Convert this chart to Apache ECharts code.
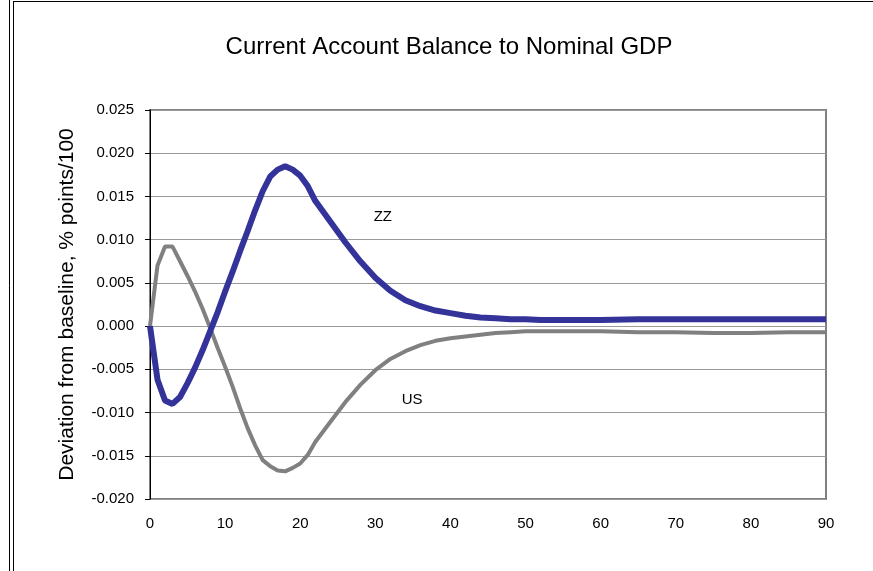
<!DOCTYPE html>
<html>
<head>
<meta charset="utf-8">
<script src="https://cdn.jsdelivr.net/npm/echarts@6/dist/echarts.min.js"></script>
<style>
  html, body { margin: 0; padding: 0; background: #fff; }
  #chart { width: 873px; height: 571px; }
</style>
</head>
<body>
<div id="chart"></div>
<script>
const periods = [0, 1, 2, 3, 4, 5, 6, 7, 8, 9, 10, 11, 12, 13, 14, 15, 16, 17, 18, 19, 20, 21, 22,
  24, 26, 28, 30, 32, 34, 36, 38, 40, 42, 44, 46, 48, 50, 52, 55, 60, 65, 70, 75, 80, 85, 90];

const zzValues = [0, -0.0062, -0.0086, -0.0090, -0.0082, -0.0066, -0.0048, -0.0028, -0.0006, 0.0016,
  0.0040, 0.0063, 0.0087, 0.0110, 0.0134, 0.0156, 0.0173, 0.0181, 0.0185, 0.0181, 0.0174, 0.0162, 0.0145,
  0.0121, 0.0097, 0.0075, 0.0056, 0.0041, 0.0030, 0.0023, 0.0018, 0.0015, 0.0012, 0.0010, 0.0009, 0.0008,
  0.0008, 0.0007, 0.0007, 0.0007, 0.0008, 0.0008, 0.0008, 0.0008, 0.0008, 0.0008];

const usValues = [0, 0.0070, 0.0092, 0.0092, 0.0075, 0.0058, 0.0040, 0.0020, -0.0002, -0.0025,
  -0.0047, -0.0070, -0.0095, -0.0118, -0.0138, -0.0155, -0.0162, -0.0167, -0.0168, -0.0164, -0.0159, -0.0149, -0.0134,
  -0.0111, -0.0088, -0.0068, -0.0051, -0.0038, -0.0029, -0.0022, -0.0017, -0.0014, -0.0012, -0.0010, -0.0008, -0.0007,
  -0.0006, -0.0006, -0.0006, -0.0006, -0.0007, -0.0007, -0.0008, -0.0008, -0.0007, -0.0007];

// where the series names sit in the plot
const zzLabelAt = [31, 0.0126];
const usLabelAt = [34.9, -0.0085];

const chart = echarts.init(document.getElementById("chart"));
const font = "Arial, 'Liberation Sans', sans-serif";

const pairs = (vals) => periods.map((t, i) => [t, vals[i]]);

chart.setOption({
  animation: false,
  title: {
    text: "Current Account Balance to Nominal GDP",
    left: 444,
    top: 30,
    textAlign: "center",
    textStyle: { fontFamily: font, fontSize: 24, fontWeight: "normal", color: "#000" },
  },
  grid: {
    left: 150,
    right: 47,
    top: 110,
    bottom: 72,
    show: true,
    borderColor: "#808080",
    borderWidth: 2,
  },
  xAxis: {
    type: "value",
    min: 0,
    max: 90,
    interval: 10,
    axisLine: { show: false },
    axisTick: { show: false },
    splitLine: { show: false },
    axisLabel: { fontFamily: font, fontSize: 15, color: "#000", margin: 17 },
  },
  yAxis: {
    type: "value",
    min: -0.02,
    max: 0.025,
    interval: 0.005,
    name: "Deviation from baseline, % points/100",
    nameLocation: "middle",
    nameGap: 72,
    nameTextStyle: { fontFamily: font, fontSize: 21, color: "#000" },
    axisLine: { show: true, onZero: false, lineStyle: { color: "#000", width: 1 } },
    axisTick: { show: true, length: 5, lineStyle: { color: "#000" } },
    splitLine: { show: true, lineStyle: { color: "#9a9a9a", width: 1 } },
    axisLabel: {
      fontFamily: font, fontSize: 15, color: "#000", margin: 16,
      formatter: (v) => v.toFixed(3),
    },
  },
  series: [
    {
      name: "US",
      type: "line",
      data: pairs(usValues),
      showSymbol: false,
      lineStyle: { color: "#808080", width: 4 },
      z: 2,
      markPoint: {
        symbol: "circle",
        symbolSize: 0,
        label: { show: true, formatter: "US", fontFamily: font, fontSize: 15, color: "#000" },
        data: [{ coord: usLabelAt }],
      },
    },
    {
      name: "ZZ",
      type: "line",
      data: pairs(zzValues),
      showSymbol: false,
      lineStyle: { color: "#333399", width: 6 },
      z: 3,
      markPoint: {
        symbol: "circle",
        symbolSize: 0,
        label: { show: true, formatter: "ZZ", fontFamily: font, fontSize: 15, color: "#000" },
        data: [{ coord: zzLabelAt }],
      },
    },
  ],
  graphic: [
    { type: "line", shape: { x1: 9.5, y1: 0, x2: 9.5, y2: 571 }, style: { stroke: "#000", lineWidth: 1 } },
    { type: "line", shape: { x1: 13.5, y1: 1, x2: 13.5, y2: 571 }, style: { stroke: "#000", lineWidth: 1 } },
    { type: "line", shape: { x1: 13, y1: 1.5, x2: 873, y2: 1.5 }, style: { stroke: "#000", lineWidth: 1 } },
  ],
});
</script>
</body>
</html>
